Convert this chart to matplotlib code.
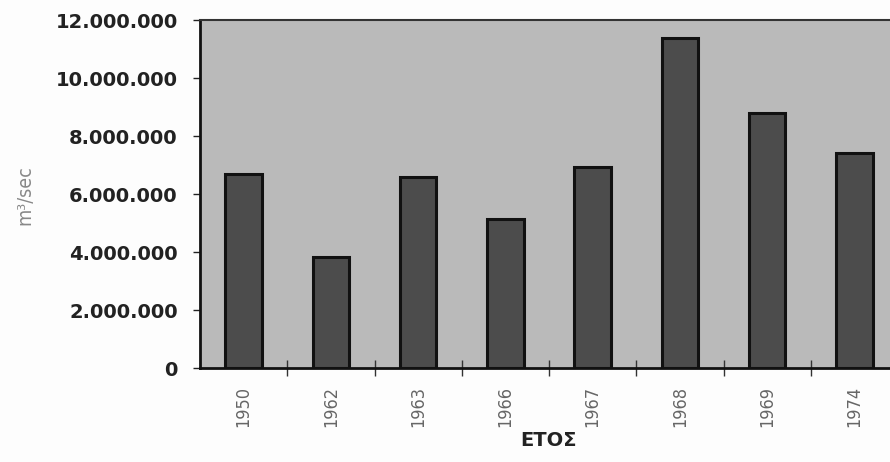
import matplotlib
matplotlib.use("Agg")
import matplotlib.pyplot as plt
import numpy as np
from matplotlib.ticker import FuncFormatter, FixedLocator

years = ["1950", "1962", "1963", "1966", "1967", "1968", "1969", "1974"]
values = [6690000, 3830000, 6590000, 5140000, 6930000, 11380000, 8790000, 7410000]
yticks = [0, 2000000, 4000000, 6000000, 8000000, 10000000, 12000000]

W, H = 890, 462
fig = plt.figure(figsize=(W / 100, H / 100), dpi=100)
fig.patch.set_facecolor("#fdfdfd")

left, right, top, bottom = 200, 898, 20, 368
ax = fig.add_axes([left / W, (H - bottom) / H, (right - left) / W, (bottom - top) / H])
ax.set_facecolor("#bababa")

x = np.arange(len(years))
ax.bar(x, values, width=0.42, color="#4c4c4c", edgecolor="#111111", linewidth=2.2, zorder=3)

ax.set_xlim(-0.5, len(years) - 0.5)
ax.set_ylim(0, 12000000)
ax.set_yticks(yticks)
ax.yaxis.set_major_formatter(FuncFormatter(lambda v, p: f"{int(v):,}".replace(",", ".")))
ax.tick_params(axis="y", direction="out", length=5, width=1, pad=11,
               labelsize=14, colors="#222222")
for lab in ax.get_yticklabels():
    lab.set_fontweight("bold")
    lab.set_family("DejaVu Sans")

# boundary ticks crossing the axis, labels at category centers
ax.xaxis.set_major_locator(FixedLocator(np.arange(0.5, len(years) - 0.5, 1.0)))
ax.xaxis.set_major_formatter(FuncFormatter(lambda v, p: ""))
ax.xaxis.set_minor_locator(FixedLocator(x))
ax.set_xticks(x, minor=True)
ax.set_xticklabels(years, minor=True, rotation=90, fontsize=13, color="#666666",
                   fontstretch="condensed", fontweight="light")
ax.tick_params(axis="x", which="major", direction="inout", length=12, width=1, color="#333333")
ax.tick_params(axis="x", which="minor", length=0, pad=13)

for s in ["left", "bottom"]:
    ax.spines[s].set_color("#111111")
    ax.spines[s].set_linewidth(2)
ax.spines["top"].set_color("#333333")
ax.spines["top"].set_linewidth(1.5)
ax.spines["right"].set_visible(False)

fig.text(549 / W, 1 - 440 / H, "ΕΤΟΣ", ha="center", va="center",
         fontsize=14, fontweight="bold", color="#222222", family="DejaVu Sans")
fig.text(25 / W, 1 - 195 / H, "m³/sec", ha="center", va="center", rotation=90,
         fontsize=14, color="#888888", fontstretch="condensed")

fig.savefig("out.png", dpi=100, facecolor=fig.get_facecolor())
